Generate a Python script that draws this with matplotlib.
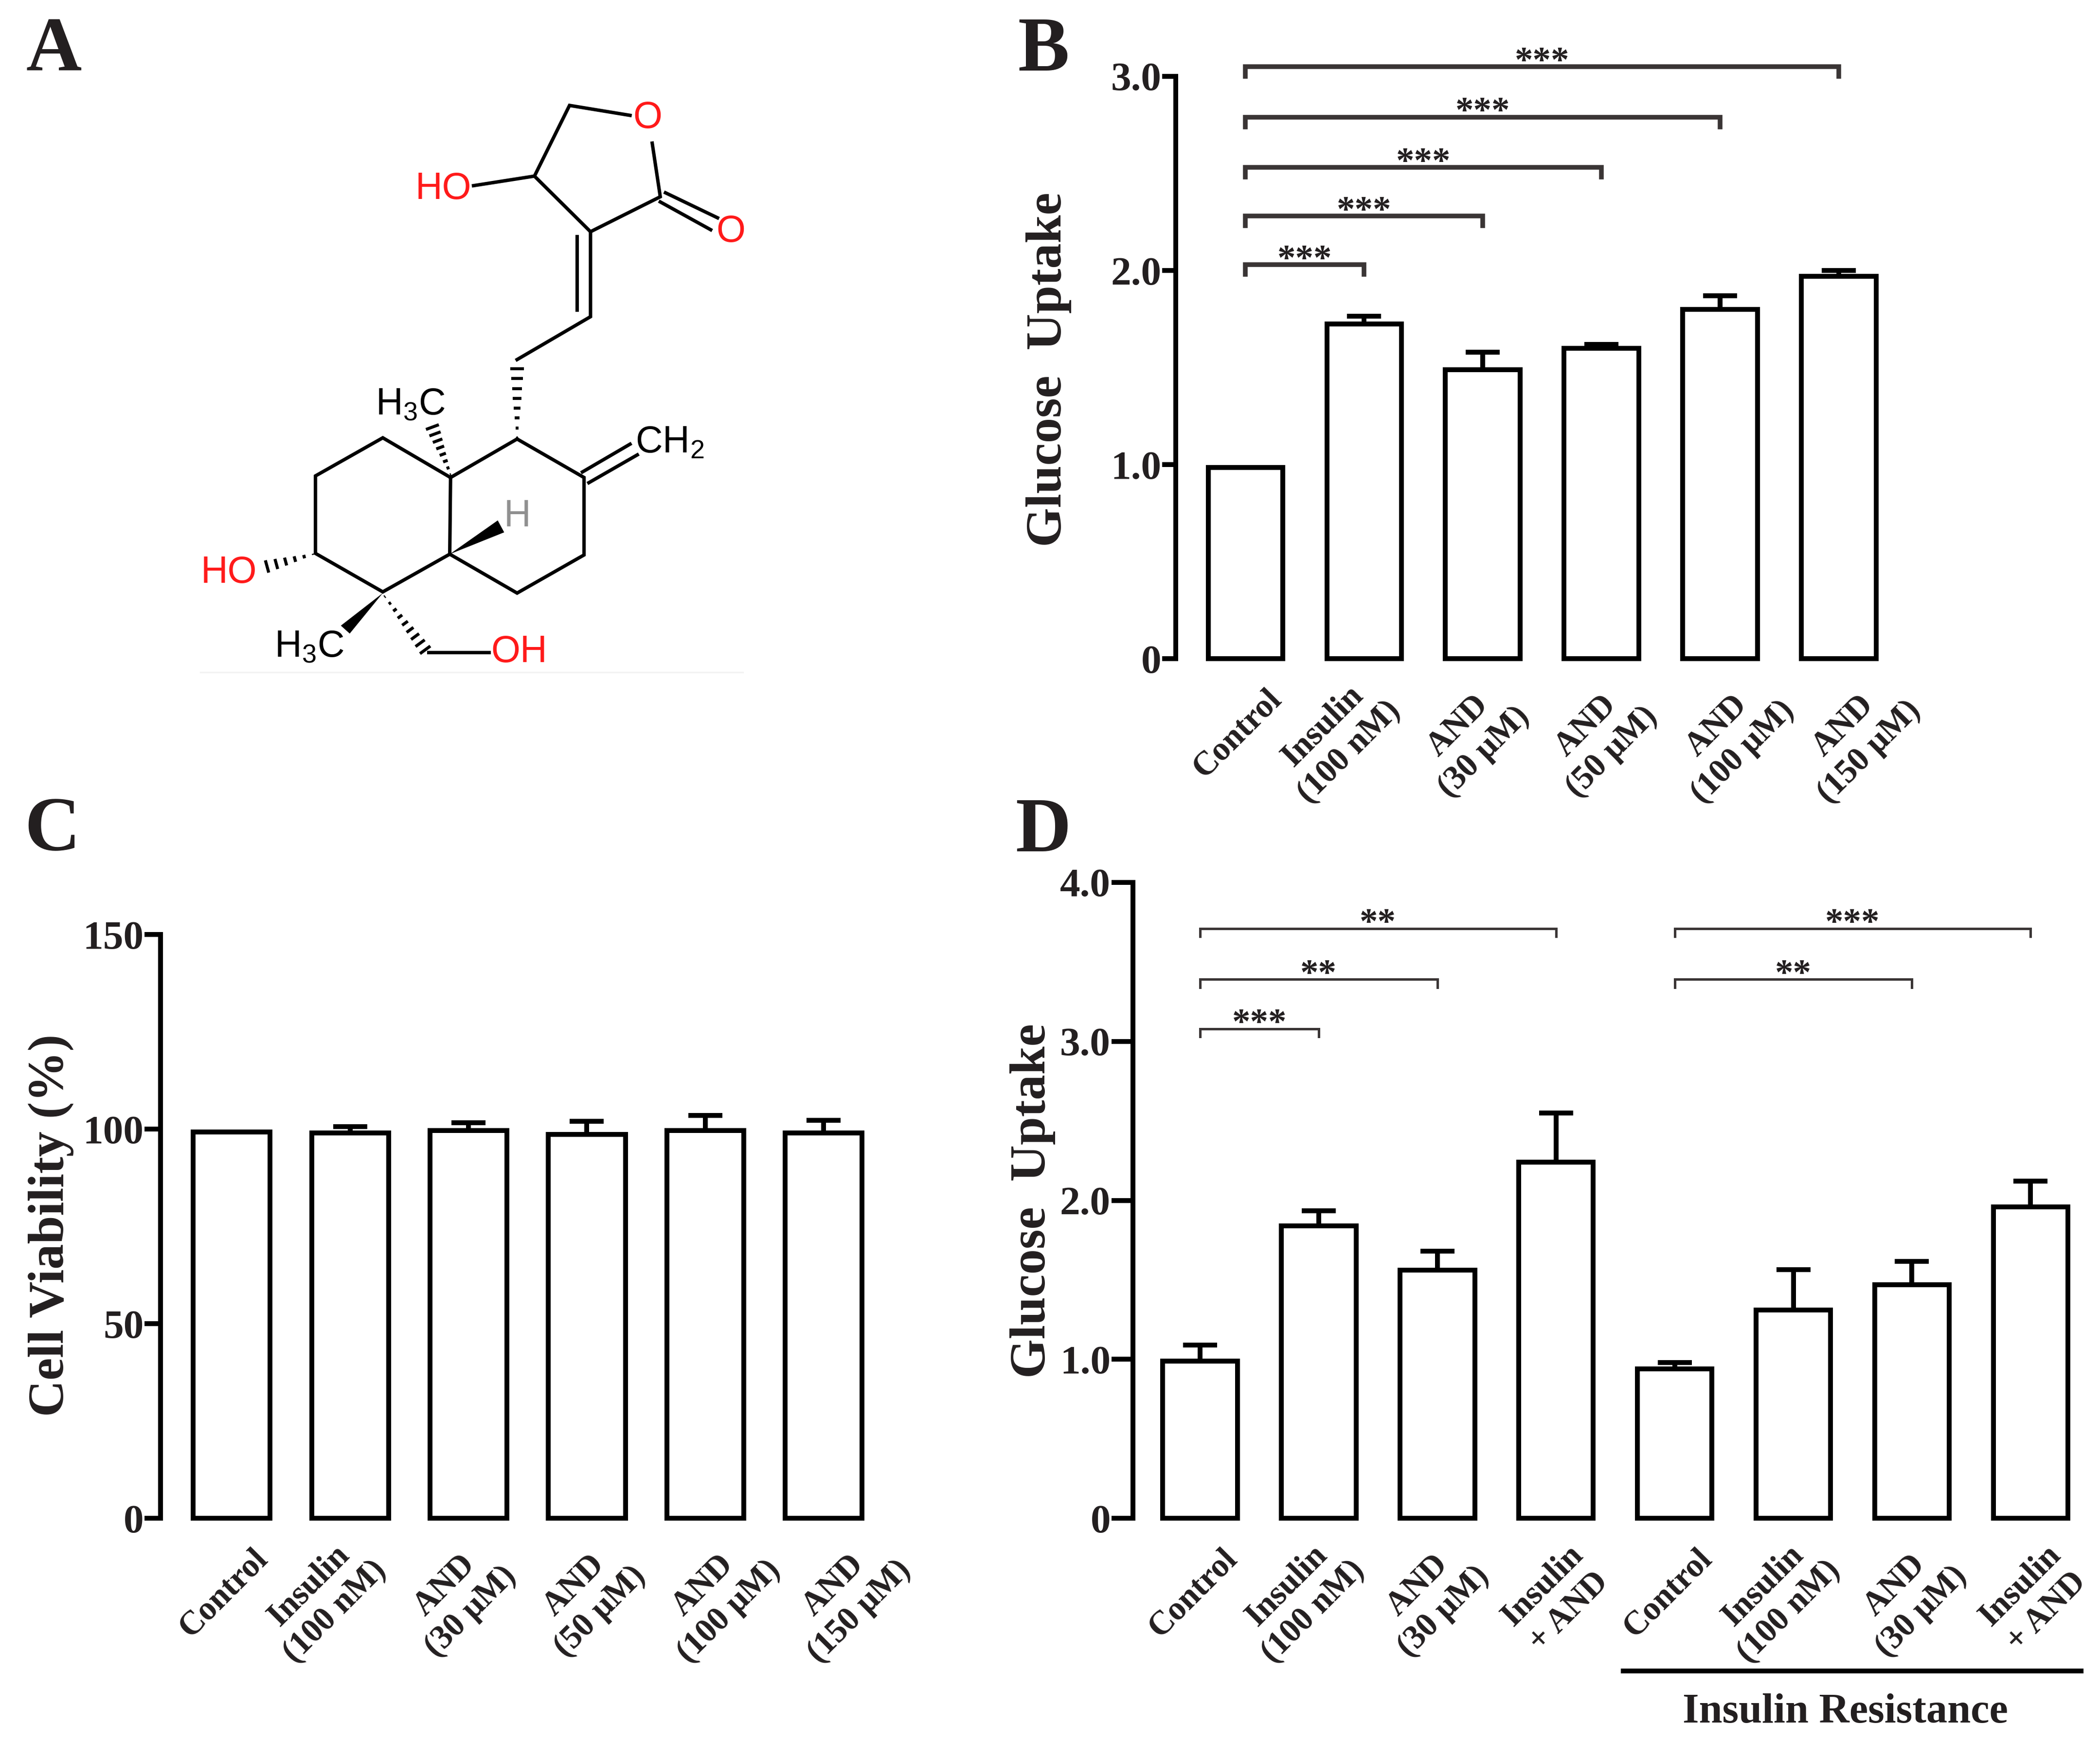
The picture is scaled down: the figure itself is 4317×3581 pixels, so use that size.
import numpy as np
import matplotlib
matplotlib.use('Agg')
from matplotlib import pyplot as plt

plt.rcParams['font.family'] = ['Liberation Serif', 'DejaVu Serif']
plt.rcParams['mathtext.fontset'] = 'custom'
plt.rcParams['mathtext.rm'] = 'Liberation Sans'
plt.rcParams['mathtext.default'] = 'rm'

W = 1568.0
H = 1301.0
TEXT = '#231f20'
LW = 2.4

labels_b = ['Control', 'Insulin\n(100 nM)', 'AND\n(30 μM)', 'AND\n(50 μM)', 'AND\n(100 μM)', 'AND\n(150 μM)']
values_b = [0.985, 1.725, 1.49, 1.60, 1.80, 1.97]
errors_b = [0, 0.04, 0.09, 0.02, 0.07, 0.03]
sig_b = [(0, 5, 3.05, '***'), (0, 4, 2.79, '***'), (0, 3, 2.53, '***'), (0, 2, 2.28, '***'), (0, 1, 2.03, '***')]
shift_b = [0, -8, 4, 11, 20, 26]

labels_c = labels_b
values_c = [99.3, 99.0, 99.7, 98.7, 99.7, 99.0]
errors_c = [0, 1.7, 1.9, 3.3, 3.8, 3.3]
shift_c = [0, -8, 5, 13, 21, 30]

labels_d = ['Control', 'Insulin\n(100 nM)', 'AND\n(30 μM)', 'Insulin\n+ AND',
            'Control', 'Insulin\n(100 nM)', 'AND\n(30 μM)', 'Insulin\n+ AND']
values_d = [0.99, 1.84, 1.56, 2.24, 0.94, 1.31, 1.47, 1.96]
errors_d = [0.10, 0.095, 0.12, 0.31, 0.04, 0.255, 0.145, 0.16]
sig_d = [(0, 3, 3.71, '**'), (0, 2, 3.39, '**'), (0, 1, 3.08, '***'), (4, 7, 3.71, '***'), (4, 6, 3.39, '**')]
shift_d = [1, -1, 8, 13, 1, 0, 10, 15]


def px(v):
    # view px (1568 wide) to points
    return v * 2.753 * 0.24


def panel(fig, axis_x, first_x, step, y0, y1, n, ymax, ticks, ticklabels, tick_len):
    # everything is measured in px of the 1568 wide view of the figure
    right = first_x + step * (n - 0.5)
    ax = fig.add_axes([axis_x / W, 1 - y0 / H, (right - axis_x) / W, (y0 - y1) / H])
    ax.set_xlim((axis_x - first_x) / step, n - 0.5)
    ax.set_ylim(0, ymax)
    for s in ['top', 'right', 'bottom']:
        ax.spines[s].set_visible(False)
    ax.spines['left'].set_linewidth(LW)
    ax.set_xticks([])
    ax.set_yticks(ticks)
    ax.set_yticklabels(ticklabels, fontsize=20, fontweight='bold', color=TEXT)
    ax.tick_params(axis='y', length=px(tick_len), width=LW, pad=0.5)
    ax.patch.set_alpha(0)
    return ax


def bars(ax, values, errors, width):
    x = np.arange(len(values))
    ax.bar(x, values, width=width, facecolor='white', edgecolor='black', linewidth=LW, clip_on=False)
    for i in x:
        if errors[i] > 0:
            ax.errorbar(i, values[i], yerr=[[0], [errors[i]]], color='black', elinewidth=LW,
                        capsize=8.5, capthick=LW, clip_on=False)


def xlabels(ax, labels, shifts):
    for i, lab in enumerate(labels):
        if '\n' in lab:
            dx, dy = -13, -60
        else:
            dx, dy = -6, -56
        ax.annotate(lab, xy=(i, 0), xycoords=('data', 'axes fraction'),
                    xytext=(px(dx + shifts[i]), px(dy)), textcoords='offset points',
                    rotation=45, ha='center', va='center', multialignment='center',
                    fontsize=16.5, fontweight='bold', color=TEXT, linespacing=1.25, annotation_clip=False)


def brackets(ax, sig, drop, lw, color, star_size, star_off):
    for a, b, y, s in sig:
        ax.plot([a, a, b, b], [y - drop, y, y, y - drop], color=color, lw=lw, clip_on=False,
                solid_joinstyle='miter')
        ax.annotate(s, xy=((a + b) / 2, y), xytext=(0, star_off), textcoords='offset points',
                    ha='center', va='center', fontsize=star_size, fontweight='bold', color=TEXT,
                    annotation_clip=False)


def hashed(ax, p0, p1, w0, w1, n, lw=1.3):
    p0 = np.array(p0, float)
    p1 = np.array(p1, float)
    d = (p1 - p0) / np.hypot(*(p1 - p0))
    nrm = np.array([-d[1], d[0]])
    for t in np.linspace(0, 1, n):
        c = p0 + (p1 - p0) * t
        w = w0 + (w1 - w0) * t
        a = c - nrm * w / 2
        b = c + nrm * w / 2
        ax.plot([a[0], b[0]], [a[1], b[1]], color='black', lw=lw, solid_capstyle='butt')


def structure(fig):
    ax = fig.add_axes([350 / 4317, 1 - 1435.5 / 3581, 1300 / 4317, 1280 / 3581])
    ax.set_xlim(0, 1568)
    ax.set_ylim(1568, 0)
    ax.axis('off')
    chains = [
        [(903, 253), (990, 75), (1140, 100)],
        [(1195, 170), (1215, 305), (1042, 393), (903, 253), (752, 277)],
        [(1228, 295), (1357, 358)],
        [(1215, 318), (1340, 388)],
        [(1042, 393), (1042, 607), (860, 715)],
        [(1008, 405), (1008, 590)],
        [(860, 915), (695, 1012), (527, 912), (360, 1008), (360, 1203), (527, 1300), (693, 1205), (695, 1012)],
        [(693, 1205), (860, 1303), (1026, 1207), (1026, 1012), (860, 915)],
        [(1022, 998), (1140, 928)],
        [(1038, 1025), (1158, 955)],
        [(640, 1452), (790, 1452)],
    ]
    for c in chains:
        ax.plot([p[0] for p in c], [p[1] for p in c], color='black', lw=1.7, solid_joinstyle='miter')
    hashed(ax, (860, 912), (860, 738), 3, 34, 8, 1.5)
    hashed(ax, (695, 1005), (650, 885), 3, 34, 8, 1.5)
    hashed(ax, (355, 1205), (240, 1236), 3, 32, 6, 1.5)
    hashed(ax, (532, 1312), (632, 1446), 3, 32, 9, 1.5)
    ax.fill([693, 812, 828], [1205, 1120, 1150], color='black', lw=0)
    ax.fill([527, 423, 445], [1303, 1385, 1405], color='black', lw=0)
    ax.plot([75, 1420], [1503, 1503], color='#f3f3f3', lw=0.8)
    red = '#ff1a1a'
    atoms = [
        (1184, 107, 'O', red), (677, 285, 'HO', red), (1390, 393, 'O', red),
        (145, 1252, 'HO', red), (865, 1452, 'OH', red), (860, 1110, 'H', '#909090'),
        (595, 828, 'H$_{3}$C', 'black'), (345, 1438, 'H$_{3}$C', 'black'), (1238, 925, 'CH$_{2}$', 'black'),
    ]
    for x, y, s, col in atoms:
        ax.text(x, y, s, ha='center', va='center', color=col, fontsize=18.5, family='Liberation Sans')


fig = plt.figure(figsize=(4317 / 300, 3581 / 300), dpi=300, facecolor='white')

structure(fig)

ax_b = panel(fig, 878, 930, 88.6, 492, 57, 6, 3.0, [0, 1, 2, 3], ['0', '1.0', '2.0', '3.0'], 10)
bars(ax_b, values_b, errors_b, 0.63)
xlabels(ax_b, labels_b, shift_b)
brackets(ax_b, sig_b, 0.05, 2.3, '#3a3535', 18, 2.0)

ax_c = panel(fig, 120, 173, 88.4, 1134, 698, 6, 150, [0, 50, 100, 150], ['0', '50', '100', '150'], 12)
bars(ax_c, values_c, errors_c, 0.65)
xlabels(ax_c, labels_c, shift_c)

ax_d = panel(fig, 846, 896, 88.6, 1134, 659, 8, 4.0, [0, 1, 2, 3, 4], ['0', '1.0', '2.0', '3.0', '4.0'], 16)
bars(ax_d, values_d, errors_d, 0.63)
xlabels(ax_d, labels_d, shift_d)
brackets(ax_d, sig_d, 0.05, 1.2, '#3a3535', 18, 2.0)

for s, x, y in [('A', 40, 39), ('B', 779, 39), ('C', 39, 621), ('D', 779, 622)]:
    fig.text(x / W, 1 - y / H, s, fontsize=38, fontweight='bold', color=TEXT, ha='center', va='center')

for s, x, y in [('Glucose  Uptake', 783, 276), ('Cell Viability (%)', 38, 915), ('Glucose  Uptake', 771, 897)]:
    fig.text(x / W, 1 - y / H, s, fontsize=25, fontweight='bold', color=TEXT, ha='center', va='center',
             rotation=90)

# group marker under panel D
fig.add_artist(plt.Line2D([1212 / W, 1554 / W], [1 - 1248 / H, 1 - 1248 / H], color='black', lw=2.4))
fig.text(1378 / W, 1 - 1279 / H, 'Insulin Resistance', fontsize=20.7, fontweight='bold', color=TEXT,
         ha='center', va='center')

fig.savefig('out.png', dpi=300)
